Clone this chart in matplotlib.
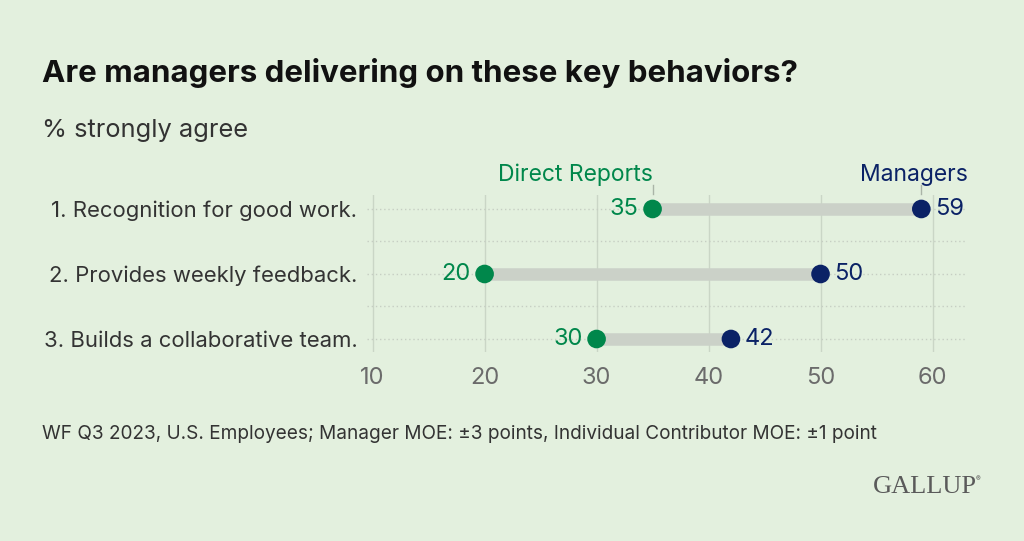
import matplotlib.pyplot as plt
import numpy as np

# Data
behaviors = ['1. Recognition for good work.',
             '2. Provides weekly feedback.',
             '3. Builds a collaborative team.']
direct_reports = [35, 20, 30]
managers = [59, 50, 42]
x_ticks = [10, 20, 30, 40, 50, 60]

bg = '#e3f0de'
green = '#00874b'
navy = '#0b2266'
text_col = '#333333'

plt.rcParams['font.family'] = ['Inter', 'DejaVu Sans']

fig = plt.figure(figsize=(10.24, 5.41), dpi=100, facecolor=bg)
W, H = 1024, 541

# axes placed in pixel terms
left, right, top, bottom = 367, 965, 195, 352
ax = fig.add_axes([left / W, 1 - bottom / H, (right - left) / W, (bottom - top) / H])
ax.set_facecolor(bg)
ax.set_xlim(9.5, 62.9)
ax.set_ylim(2.2, -0.215)

y = np.arange(len(behaviors))

# grid
for t in x_ticks:
    ax.axvline(t, color='#cad6c6', lw=1, zorder=0)
for yy in np.arange(0, 2.01, 0.5):
    ax.axhline(yy, color='#c6cec3', lw=1, ls=(0, (1, 2)), zorder=0)

# connecting bars
ax.hlines(y, direct_reports, managers, color='#cbd1c8', lw=9, zorder=1)
ax.scatter(direct_reports, y, s=180, color=green, zorder=3, edgecolors='none')
ax.scatter(managers, y, s=180, color=navy, zorder=3, edgecolors='none')

for i in range(len(y)):
    ax.annotate(f'{direct_reports[i]}', (direct_reports[i], y[i]), xytext=(-10, 0),
                textcoords='offset points', ha='right', va='center',
                fontsize=17, color=green)
    ax.annotate(f'{managers[i]}', (managers[i], y[i]), xytext=(10, 0),
                textcoords='offset points', ha='left', va='center',
                fontsize=17, color=navy)

# series labels with small ticks
ax.plot([direct_reports[0]] * 2, [-0.23, -0.37], color='#aab4a7', lw=1, clip_on=False)
ax.plot([managers[0]] * 2, [-0.23, -0.37], color='#aab4a7', lw=1, clip_on=False)
ax.text(direct_reports[0], -0.36, 'Direct Reports', ha='right', va='bottom',
        fontsize=16.5, color=green)
ax.text(63.2, -0.36, 'Managers', ha='right', va='bottom', fontsize=16.5, color=navy)

ax.set_xticks(x_ticks)
ax.set_xticklabels([str(t) for t in x_ticks], fontsize=17, color='#6b6b6b')
ax.set_yticks(y)
ax.set_yticklabels(behaviors, fontsize=15.9, color=text_col)
ax.tick_params(axis='x', length=0, pad=11)
ax.tick_params(axis='y', length=0, pad=7)
for s in ax.spines.values():
    s.set_visible(False)

# titles and notes
fig.text(42 / W, 1 - 73 / H, 'Are managers delivering on these key behaviors?',
         fontsize=22.5, fontweight='bold', color='#111111', va='center')
fig.text(42 / W, 1 - 131 / H, '% strongly agree', fontsize=18.3, color=text_col, va='center')
fig.text(42 / W, 1 - 434 / H,
         'WF Q3 2023, U.S. Employees; Manager MOE: \u00b13 points, Individual Contributor MOE: \u00b11 point',
         fontsize=13.7, color=text_col, va='center')
fig.text(977 / W, 1 - 487 / H, 'GALLUP', family='Liberation Serif', fontsize=19,
         color='#5a5a5a', ha='right', va='center')
fig.text(980 / W, 1 - 479 / H, '\u00ae', fontsize=5, color='#5a5a5a', ha='right', va='center')

fig.savefig('out.png', dpi=100, facecolor=bg)
